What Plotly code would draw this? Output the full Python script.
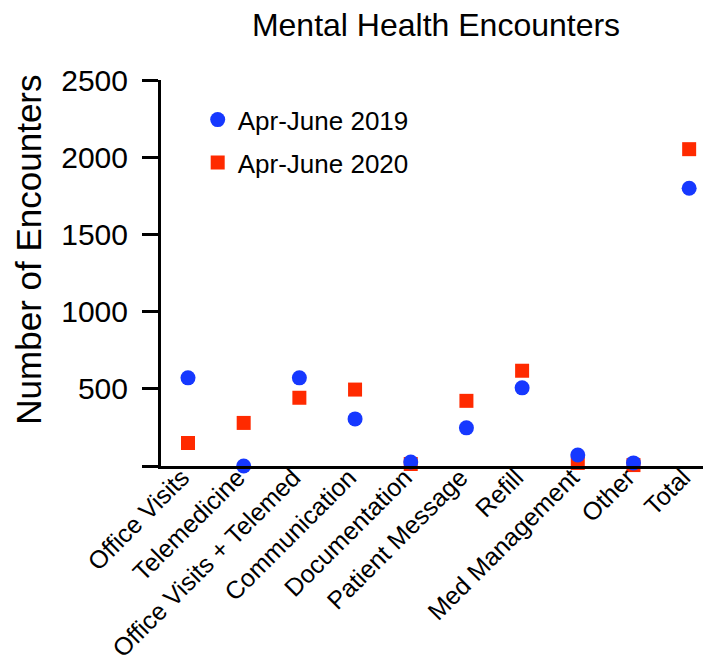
import plotly.graph_objects as go

categories = ["Office Visits", "Telemedicine", "Office Visits + Telemed", "Communication",
              "Documentation", "Patient Message", "Refill", "Med Management", "Other", "Total"]
values_2019 = [571, 0, 571, 305, 26, 247, 506, 71, 20, 1799]
values_2020 = [149, 279, 442, 495, 13, 422, 617, 20, 6, 2052]
y_ticks = [0, 500, 1000, 1500, 2000, 2500]
y_ticktext = ["", "500", "1000", "1500", "2000", "2500"]

FONT = "Liberation Sans, Arial, sans-serif"
BLUE = "#1638ff"
RED = "#ff2a00"

fig = go.Figure()
fig.add_trace(go.Scatter(
    x=categories, y=values_2020, mode="markers", name="Apr-June 2020",
    legendgroup="b", legendrank=2,
    marker=dict(symbol="square", size=14, color=RED), cliponaxis=False))
fig.add_trace(go.Scatter(
    x=categories, y=values_2019, mode="markers", name="Apr-June 2019",
    legendgroup="a", legendrank=1,
    marker=dict(symbol="circle", size=15, color=BLUE), cliponaxis=False))

fig.update_layout(
    width=711, height=670,
    margin=dict(l=153, r=2, t=72, b=212, autoexpand=False),
    paper_bgcolor="white", plot_bgcolor="white",
    font=dict(family=FONT, color="black"),
    title=dict(text="Mental Health Encounters", font=dict(size=32, family=FONT),
               x=0.602, xanchor="center", y=0.975, yanchor="middle", xref="container", yref="container"),
    showlegend=True,
    legend=dict(x=0.066, xanchor="left", y=0.958, yanchor="top", bgcolor="rgba(0,0,0,0)",
                font=dict(size=26, family=FONT), tracegroupgap=6, itemsizing="trace"),
    annotations=[dict(text="Number of Encounters", textangle=-90, xref="paper", yref="paper",
                      x=-0.238, y=0.5596, xanchor="center", yanchor="middle", showarrow=False,
                      font=dict(size=35, family=FONT))],
)
fig.update_xaxes(
    type="category", categoryorder="array", categoryarray=categories,
    range=[-0.485, 9.5], showline=True, linecolor="black", linewidth=3,
    showgrid=False, zeroline=False, ticks="", tickangle=-45, automargin=False,
    tickfont=dict(size=25, family=FONT), ticklabelstandoff=-16, ticklabelshift=-6)
fig.update_yaxes(
    range=[0, 2500], tickvals=y_ticks, ticktext=y_ticktext, automargin=False,
    showline=True, linecolor="black", linewidth=3, showgrid=False, zeroline=False,
    ticks="outside", ticklen=16, tickwidth=3, tickcolor="black",
    tickfont=dict(size=30, family=FONT), ticklabelstandoff=8)

fig.write_html("out.html")
